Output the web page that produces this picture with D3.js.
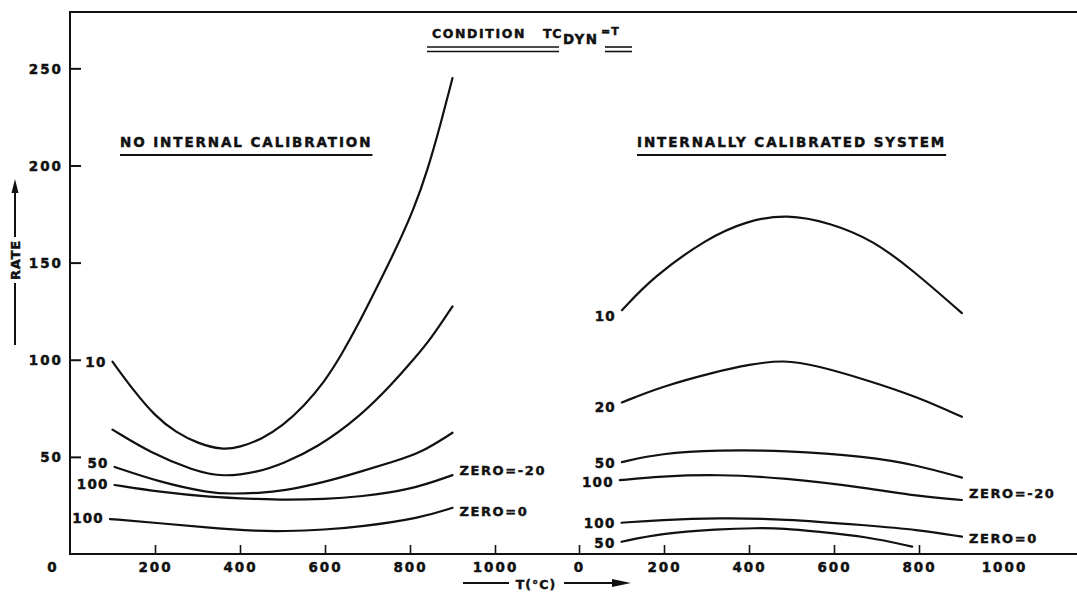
<!DOCTYPE html>
<html>
<head>
<meta charset="utf-8">
<script src="https://cdn.jsdelivr.net/npm/d3@7"></script>
<style>
  body { margin: 0; background: #fff; }
  svg { display: block; }
  text { font-family: "DejaVu Sans", "Liberation Sans", sans-serif; font-weight: bold; fill: #111; stroke: #111; stroke-width: 0.45px; }
  .tick text { font-size: 13.5px; letter-spacing: 2px; }
  .curve { fill: none; stroke: #111; stroke-width: 2.2; stroke-linecap: round; }
  .rule { stroke: #111; stroke-width: 2; fill: none; }
</style>
</head>
<body>
<script>
// Response rate vs. temperature T (°C), condition TC_dyn = T
// Left panel: no internal calibration; right panel: internally calibrated system.

const rateTicks = [50, 100, 150, 200, 250];
const leftTempTicks = [200, 400, 600, 800, 1000];
const rightTempTicks = [0, 200, 400, 600, 800, 1000];

// No internal calibration — [T, rate]
const noCal10 = [[100,99],[150,84],[200,71],[250,62.5],[300,57],[358,53.5],[400,55],[450,59],[500,66],[550,76],[600,89],[640,103],[680,119],[710,132],[765,156],[810,178],[842,198],[873,222],[900,245]];
const noCal20 = [[100,64],[190,52],[290,43],[360,39.5],[445,42.3],[500,46.5],[580,54.5],[682,70.6],[760,88],[808,100],[850,111],[900,127.5]];
const noCal50 = [[105,44.8],[211,37],[328,31.4],[380,31],[446,31.4],[500,32.4],[600,37],[682,42.3],[760,47.5],[824,51.8],[900,62.4]];
const noCal100a = [[105,35.5],[211,31.9],[328,29.3],[446,28.3],[500,27.8],[600,28.2],[682,29.5],[800,32.9],[900,40.6]];
const noCal100b = [[94,18],[211,15.9],[328,13.4],[446,11.8],[500,11.7],[600,12.5],[682,14],[824,18.5],[900,23.8]];

// Internally calibrated system — [T, rate]
const intCal10 = [[101,125.5],[174,142.5],[301,162.5],[395,171.5],[489,175],[591,170.5],[692,161.5],[786,146],[901,124]];
const intCal20 = [[101,78],[191,86],[325,94],[400,97.5],[482,100],[560,97],[678,89.5],[795,81],[901,70.6]];
const intCal50 = [[101,47.3],[191,51.8],[327,53.5],[482,53.3],[678,50.2],[795,45.8],[901,39.3]];
const intCal100a = [[96,38],[191,40],[327,41],[482,39.2],[678,34],[795,29.8],[901,27.8]];
const intCal100b = [[100,16.1],[191,17.5],[327,18.6],[482,18.1],[678,14.7],[795,12.6],[901,8.9]];
const intCal50b = [[100,6.3],[191,10.6],[327,12.8],[420,13.4],[482,13.2],[560,11.5],[678,8.9],[784,3.8]];

const W = 1077, H = 597;
const plot = { left: 70, top: 12, right: 1077, bottom: 554 };

const svg = d3.select("body").append("svg").attr("width", W).attr("height", H);

const y = d3.scaleLinear().domain([0, 279]).range([plot.bottom, plot.top]);
const xL = d3.scaleLinear().domain([0, 1000]).range([70, 495]);
const xR = d3.scaleLinear().domain([0, 1000]).range([579, 1004]);

// frame: top rule, left axis, baseline
svg.append("line").attr("class", "rule").attr("x1", plot.left).attr("x2", plot.right).attr("y1", plot.top).attr("y2", plot.top);
svg.append("line").attr("class", "rule").attr("x1", plot.left).attr("x2", plot.left).attr("y1", plot.top - 1).attr("y2", plot.bottom + 1);
svg.append("line").attr("class", "rule").attr("x1", plot.left - 1).attr("x2", plot.right).attr("y1", plot.bottom).attr("y2", plot.bottom);

// rate axis
const yAxis = svg.append("g").attr("transform", `translate(${plot.left},0)`)
  .call(d3.axisLeft(y).tickValues(rateTicks).tickSize(-11).tickPadding(7).tickFormat(d3.format("d")));
yAxis.select(".domain").remove();
yAxis.selectAll(".tick line").attr("stroke", "#111").attr("stroke-width", 2);
yAxis.selectAll(".tick text").attr("dy", "0.36em");

// temperature axes
function tempAxis(scale, values, hideLast) {
  const g = svg.append("g").attr("transform", `translate(0,${plot.bottom})`)
    .call(d3.axisBottom(scale).tickValues(values).tickSize(-9).tickPadding(8).tickFormat(d3.format("d")));
  g.select(".domain").remove();
  g.selectAll(".tick line").attr("stroke", "#111").attr("stroke-width", 1.6);
  if (hideLast) g.selectAll(".tick line").filter(d => d === 1000).remove();
  return g;
}
tempAxis(xL, leftTempTicks, false);
tempAxis(xR, rightTempTicks, true);

// origin label
svg.append("text").attr("x", 52).attr("y", 572).attr("text-anchor", "middle")
  .style("font-size", "13.5px").text("0");

// curves
const line = (xs) => d3.line().x(d => xs(d[0])).y(d => y(d[1])).curve(d3.curveBasis);

const series = [
  { pts: noCal10,   xs: xL, label: "10",  ldy: 5 },
  { pts: noCal20,   xs: xL, label: null },
  { pts: noCal50,   xs: xL, label: "50",  ldy: 1 },
  { pts: noCal100a, xs: xL, label: "100", ldy: 4, zero: "ZERO=-20", zdy: 0 },
  { pts: noCal100b, xs: xL, label: "100", ldy: 4, zero: "ZERO=0",   zdy: 8 },
  { pts: intCal10,   xs: xR, label: "10",  ldy: 11 },
  { pts: intCal20,   xs: xR, label: "20",  ldy: 10 },
  { pts: intCal50,   xs: xR, label: "50",  ldy: 6 },
  { pts: intCal100a, xs: xR, label: "100", ldy: 7, zero: "ZERO=-20", zdy: -2 },
  { pts: intCal100b, xs: xR, label: "100", ldy: 5, zero: "ZERO=0",   zdy: 6 },
  { pts: intCal50b,  xs: xR, label: "50",  ldy: 6 }
];

series.forEach(s => {
  svg.append("path").attr("class", "curve").attr("d", line(s.xs)(s.pts));
  const first = s.pts[0], last = s.pts[s.pts.length - 1];
  if (s.label) {
    svg.append("text")
      .attr("x", s.xs(first[0]) - 6).attr("y", y(first[1]) + s.ldy)
      .attr("text-anchor", "end")
      .style("font-size", "13.5px").style("letter-spacing", "1.2px")
      .text(s.label);
  }
  if (s.zero) {
    svg.append("text")
      .attr("x", s.xs(last[0]) + 7).attr("y", y(last[1]) + s.zdy)
      .style("font-size", "13px").style("letter-spacing", "1.6px")
      .text(s.zero);
  }
});

// panel headings with underline
function heading(x, txt, ls) {
  const t = svg.append("text").attr("x", x).attr("y", 147)
    .style("font-size", "13.5px").style("letter-spacing", ls + "px").text(txt);
  const w = t.node().getComputedTextLength();
  svg.append("line").attr("class", "rule").attr("x1", x).attr("x2", x + w).attr("y1", 155).attr("y2", 155);
}
heading(120, "NO INTERNAL CALIBRATION", 1.9);
heading(637, "INTERNALLY CALIBRATED SYSTEM", 1.9);

// top title: CONDITION TC_DYN = T, double underlined
const title = svg.append("text").attr("y", 38).style("font-size", "12.5px");
title.append("tspan").attr("x", 432).style("letter-spacing", "1.6px").text("CONDITION");
title.append("tspan").attr("x", 543).style("letter-spacing", "0.6px").text("TC");
title.append("tspan").attr("x", 563).attr("dy", 6).style("font-size", "13.5px").style("letter-spacing", "1.4px").text("DYN");
title.append("tspan").attr("x", 601).attr("dy", -9).style("font-size", "11px").style("letter-spacing", "1px").text("=T");
[[427, 559], [605, 632]].forEach(([a, b]) => {
  [47, 51.5].forEach(yy => {
    svg.append("line").attr("x1", a).attr("x2", b).attr("y1", yy).attr("y2", yy)
      .attr("stroke", "#111").attr("stroke-width", 1.6);
  });
});

// rate axis title with upward arrow; the line breaks around the word
const rateMid = 260;
const rateLabel = svg.append("text").attr("transform", `translate(20,${rateMid}) rotate(-90)`)
  .attr("text-anchor", "middle").style("font-size", "13px").style("letter-spacing", "0.8px").text("RATE");
const half = rateLabel.node().getComputedTextLength() / 2;
svg.append("line").attr("class", "rule").attr("x1", 15).attr("x2", 15).attr("y1", 345).attr("y2", rateMid + half + 3);
svg.append("line").attr("class", "rule").attr("x1", 15).attr("x2", 15).attr("y1", rateMid - half - 3).attr("y2", 190);
svg.append("path").attr("d", "M15,179 L11.5,193 L18.5,193 Z").attr("fill", "#111");

// temperature axis title with right arrow
svg.append("text").attr("x", 536).attr("y", 589).attr("text-anchor", "middle")
  .style("font-size", "12.5px").style("letter-spacing", "1px").text("T(°C)");
svg.append("line").attr("class", "rule").attr("x1", 463).attr("x2", 509).attr("y1", 583).attr("y2", 583);
svg.append("line").attr("class", "rule").attr("x1", 564).attr("x2", 615).attr("y1", 583).attr("y2", 583);
svg.append("path").attr("d", "M631,583 L612,579 L612,587 Z").attr("fill", "#111");
</script>
</body>
</html>
